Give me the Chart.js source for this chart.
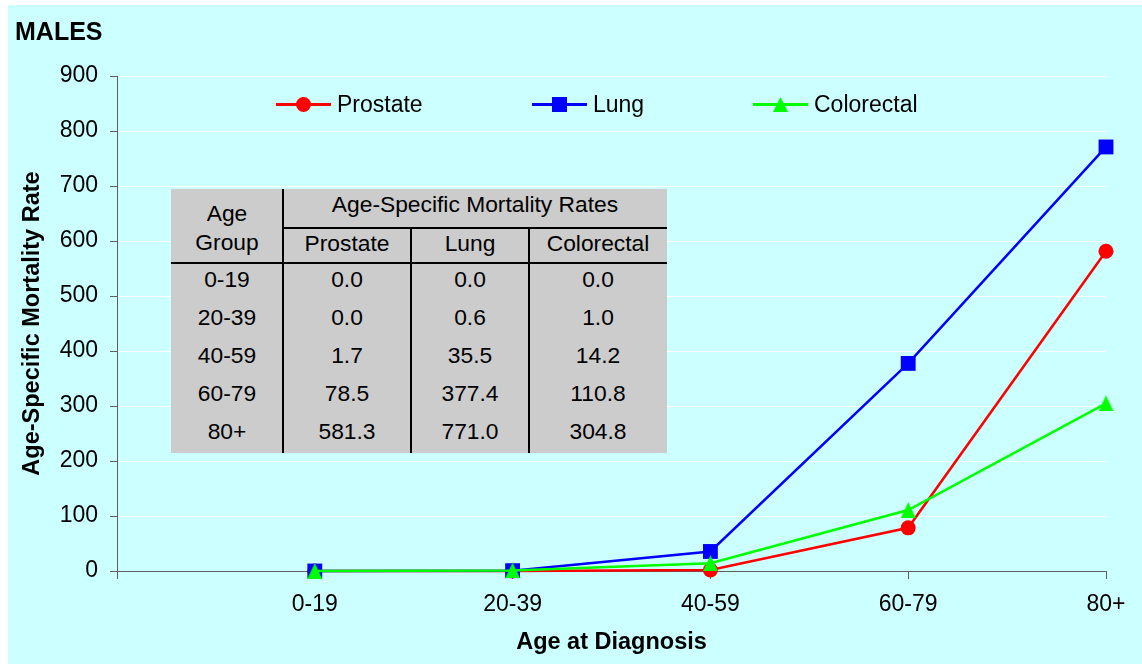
<!DOCTYPE html>
<html>
<head>
<meta charset="utf-8">
<script src="https://cdn.jsdelivr.net/npm/chart.js@4.4.1/dist/chart.umd.min.js"></script>
<style>
  html, body { margin: 0; padding: 0; background: #ffffff; }
  body { width: 1142px; height: 664px; position: relative; overflow: hidden;
         font-family: 'Liberation Sans', Arial, sans-serif; color: #000; }
  #panel { position: absolute; left: 8px; top: 5px; width: 1134px; height: 659px; background: #CCFFFF; }
  #chart { position: absolute; left: 0; top: 0; }
  #heading { position: absolute; left: 15px; top: 17px; font-weight: bold; font-size: 25px; line-height: 28px; }
  .legend-item { position: absolute; top: 90px; height: 28px; line-height: 28px; font-size: 23px;
                 display: flex; align-items: center; white-space: nowrap; }
  .swatch { position: relative; width: 55px; height: 28px; margin-right: 6px; }
  .swatch .ln { position: absolute; left: 0; right: 0; top: 13px; height: 3px; }
  .swatch .mk { position: absolute; left: 20px; top: 7px; width: 15px; height: 15px; }
  .mk.circle { border-radius: 50%; }
  .mk.triangle { clip-path: polygon(50% 0, 100% 100%, 0 100%); }
  #rates { position: absolute; left: 171px; top: 189px; width: 496px; height: 264px;
           background: #CCCCCC; font-size: 22.8px; }
  #rates .cell { position: absolute; height: 26px; line-height: 26px; text-align: center; white-space: nowrap; }
  #rates .rule { position: absolute; background: #000; }
</style>
</head>
<body>
<div id="panel"></div>
<canvas id="chart" width="1142" height="664"></canvas>
<div id="heading">MALES</div>
<div id="legend"></div>
<div id="rates"></div>
<script>
// Age-specific mortality rates per age group, males
const ageGroups = ['0-19', '20-39', '40-59', '60-79', '80+'];
const prostateRates = [0.0, 0.0, 1.7, 78.5, 581.3];
const lungRates = [0.0, 0.6, 35.5, 377.4, 771.0];
const colorectalRates = [0.0, 1.0, 14.2, 110.8, 304.8];

const seriesNames = ['Prostate', 'Lung', 'Colorectal'];
const seriesColors = ['#FF0000', '#0000FF', '#00FF00'];
const seriesMarkers = ['circle', 'square', 'triangle'];
const seriesValues = [prostateRates, lungRates, colorectalRates];

const yMin = 0;
const yMax = 900;
const yStep = 100;

const fontFamily = "'Liberation Sans', Arial, sans-serif";
const axisGray = '#5f5f5f';

// The axis starts one empty slot before the first age group
const axisCategories = [''].concat(ageGroups);

function triangleMarker(color) {
  const c = document.createElement('canvas');
  c.width = 15; c.height = 16;
  const g = c.getContext('2d');
  g.fillStyle = color;
  g.beginPath();
  g.moveTo(7.5, 0);
  g.lineTo(15, 16);
  g.lineTo(0, 16);
  g.closePath();
  g.fill();
  return c;
}

const pointStyleFor = {
  circle: () => ({ pointStyle: 'circle', pointRadius: 7.5 }),
  square: () => ({ pointStyle: 'rect', pointRadius: 10.5 }),
  triangle: (color) => ({ pointStyle: triangleMarker(color), pointRadius: 8 })
};

const datasets = seriesNames.map((name, i) => Object.assign({
  label: name,
  data: [null].concat(seriesValues[i]),
  borderColor: seriesColors[i],
  backgroundColor: seriesColors[i],
  pointBackgroundColor: seriesColors[i],
  pointBorderWidth: 0,
  borderWidth: 2.5,
  tension: 0,
  clip: false,
  order: seriesNames.length - i
}, pointStyleFor[seriesMarkers[i]](seriesColors[i])));

Chart.defaults.font.family = fontFamily;
Chart.defaults.color = '#000';

new Chart(document.getElementById('chart'), {
  type: 'line',
  data: { labels: axisCategories, datasets: datasets },
  options: {
    responsive: false,
    animation: false,
    events: [],
    layout: { padding: { left: 8, top: 76, right: 36, bottom: 0 } },
    plugins: { legend: { display: false }, tooltip: { enabled: false } },
    scales: {
      x: {
        type: 'category',
        offset: false,
        afterFit: (s) => { s.height = 93; },
        border: { color: axisGray, width: 1 },
        grid: { drawOnChartArea: false, drawTicks: true, tickLength: 8, tickColor: axisGray },
        ticks: { autoSkip: false, maxRotation: 0, padding: 12, font: { size: 23 }, color: '#000' },
        title: { display: true, text: 'Age at Diagnosis', font: { size: 23.5, weight: 'bold' },
                 color: '#000', padding: { top: 0, bottom: 7.5 } }
      },
      y: {
        min: yMin, max: yMax,
        afterFit: (s) => { s.width = 109; },
        border: { color: axisGray, width: 1 },
        grid: { color: '#ffffff', lineWidth: 1, drawTicks: true, tickLength: 7, tickColor: axisGray },
        ticks: { stepSize: yStep, padding: 12, font: { size: 23 }, color: '#000' },
        title: { display: true, text: 'Age-Specific Mortality Rate', font: { size: 23.5, weight: 'bold' },
                 color: '#000', padding: { top: 10.5, bottom: 0 } }
      }
    }
  }
});

// Legend: line with marker, then the series name
const legendLefts = [276, 532, 753];
const legendBox = document.getElementById('legend');
seriesNames.forEach((name, i) => {
  const item = document.createElement('div');
  item.className = 'legend-item';
  item.style.left = legendLefts[i] + 'px';
  const sw = document.createElement('div');
  sw.className = 'swatch';
  const ln = document.createElement('div');
  ln.className = 'ln';
  ln.style.background = seriesColors[i];
  const mk = document.createElement('div');
  mk.className = 'mk ' + seriesMarkers[i];
  mk.style.background = seriesColors[i];
  sw.appendChild(ln);
  sw.appendChild(mk);
  const label = document.createElement('span');
  label.textContent = name;
  item.appendChild(sw);
  item.appendChild(label);
  legendBox.appendChild(item);
});

// Rates table
const rates = document.getElementById('rates');
const colEdges = [0, 112, 240, 358, 496];
function addCell(text, x0, x1, centerY) {
  const d = document.createElement('div');
  d.className = 'cell';
  d.style.left = x0 + 'px';
  d.style.width = (x1 - x0) + 'px';
  d.style.top = (centerY - 13) + 'px';
  d.textContent = text;
  rates.appendChild(d);
}
function addRule(x, y, w, h) {
  const r = document.createElement('div');
  r.className = 'rule';
  r.style.left = x + 'px'; r.style.top = y + 'px';
  r.style.width = w + 'px'; r.style.height = h + 'px';
  rates.appendChild(r);
}
addCell('Age', colEdges[0], colEdges[1], 24);
addCell('Group', colEdges[0], colEdges[1], 53);
addCell('Age-Specific Mortality Rates', colEdges[1], colEdges[4], 15);
seriesNames.forEach((name, i) => addCell(name, colEdges[i + 1], colEdges[i + 2], 54));
ageGroups.forEach((grp, r) => {
  const cy = 90 + r * 38;
  addCell(grp, colEdges[0], colEdges[1], cy);
  seriesValues.forEach((vals, i) => addCell(vals[r].toFixed(1), colEdges[i + 1], colEdges[i + 2], cy));
});
addRule(111, 0, 2, 264);
addRule(239, 38, 2, 226);
addRule(357, 38, 2, 226);
addRule(112, 38, 384, 2);
addRule(0, 73, 496, 2);
</script>
</body>
</html>
